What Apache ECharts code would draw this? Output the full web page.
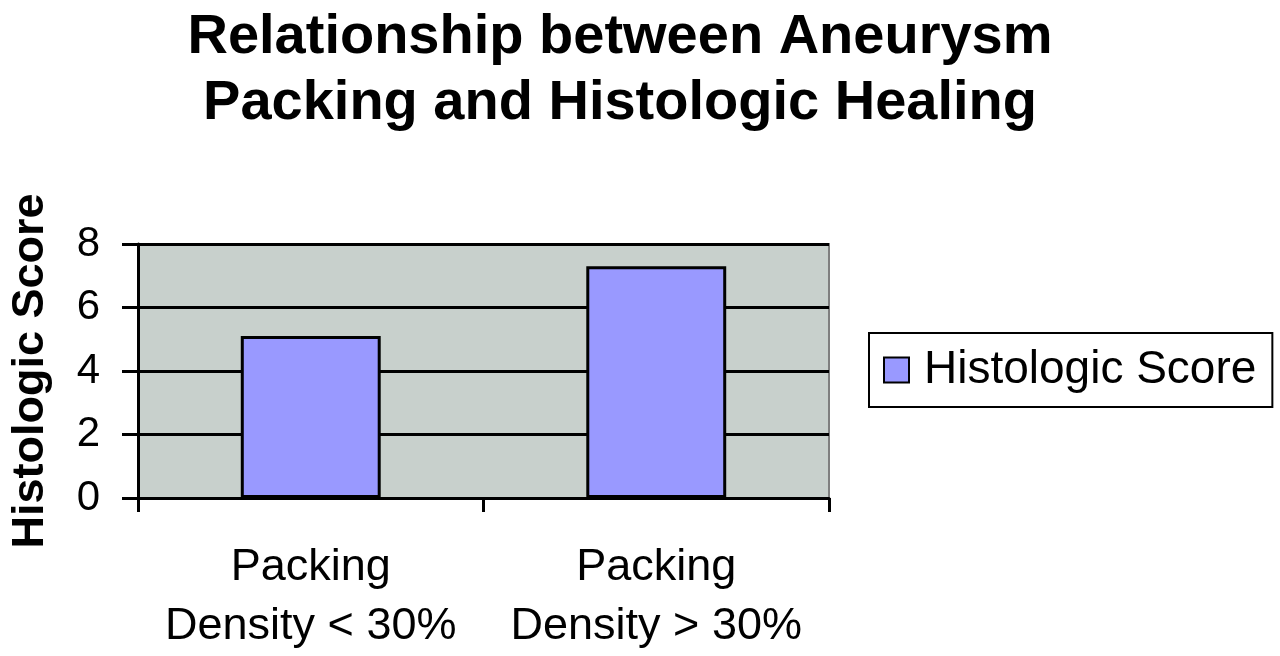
<!DOCTYPE html>
<html>
<head>
<meta charset="utf-8">
<script src="https://cdn.jsdelivr.net/npm/echarts@6/dist/echarts.min.js"></script>
<style>html,body{margin:0;padding:0;background:#fff;}#c{width:1280px;height:656px;}</style>
</head>
<body>
<div id="c"></div>
<script>
const titleLines = ['Relationship between Aneurysm', 'Packing and Histologic Healing'];
const categories = ['Packing\nDensity < 30%', 'Packing\nDensity > 30%'];
const seriesName = 'Histologic Score';
const scores = [5.1, 7.3];
const yAxisName = 'Histologic Score';
const yMin = 0, yMax = 8, yStep = 2;

const chart = echarts.init(document.getElementById('c'));
const FONT = '"Liberation Sans", Arial, sans-serif';
chart.setOption({
  animation: false,
  backgroundColor: '#ffffff',
  title: {
    text: titleLines.join('\n'),
    left: 620,
    textAlign: 'center',
    top: 5,
    padding: 0,
    textStyle: { fontFamily: FONT, fontSize: 56, fontWeight: 'bold', color: '#000', lineHeight: 66 }
  },
  legend: {
    data: [seriesName],
    left: 869, top: 333,
    orient: 'vertical',
    padding: [14, 16, 14, 14],
    borderColor: '#000', borderWidth: 2,
    itemWidth: 25, itemHeight: 25,
    icon: 'rect',
    itemGap: 10,
    textStyle: { fontFamily: FONT, fontSize: 46, color: '#000', lineHeight: 46, padding: [0, 0, 0, 10] }
  },
  grid: {
    left: 138, right: 451, top: 244, bottom: 158,
    outerBoundsMode: 'none',
    containLabel: false,
    show: true, backgroundColor: '#c8d0cc', borderColor: '#7f7f7f', borderWidth: 2
  },
  xAxis: {
    type: 'category',
    data: categories,
    boundaryGap: true,
    axisLine: { lineStyle: { color: '#000', width: 3 } },
    axisTick: { show: true, interval: 0, length: 14, lineStyle: { color: '#000', width: 3 } },
    axisLabel: { interval: 0, fontFamily: FONT, fontSize: 45, color: '#000', lineHeight: 59, margin: 40 }
  },
  yAxis: {
    type: 'value',
    min: yMin, max: yMax, interval: yStep,
    name: yAxisName,
    nameLocation: 'middle',
    nameRotate: 90,
    nameGap: 85,
    nameTextStyle: { fontFamily: FONT, fontSize: 45, fontWeight: 'bold', color: '#000' },
    axisLine: { show: true, lineStyle: { color: '#000', width: 3 } },
    axisTick: { show: true, length: 16, lineStyle: { color: '#000', width: 3 } },
    axisLabel: { fontFamily: FONT, fontSize: 42, color: '#000', margin: 38 },
    splitLine: { show: true, lineStyle: { color: '#000', width: 3 } }
  },
  series: [{
    name: seriesName,
    type: 'bar',
    data: scores,
    barWidth: '40.5%',
    itemStyle: { color: '#9999ff', borderColor: '#000', borderWidth: 3 }
  }]
});
</script>
</body>
</html>
